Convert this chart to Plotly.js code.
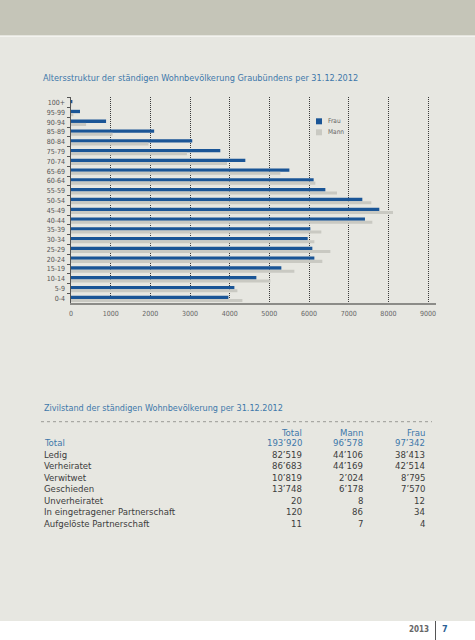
<!DOCTYPE html>
<html>
<head>
<meta charset="utf-8">
<script src="https://cdn.plot.ly/plotly-3.0.1.min.js"></script>
<style>
  html, body { margin: 0; padding: 0; background: #e7e7e1; }
  #chart { width: 475px; height: 640px; }
</style>
</head>
<body>
<div id="chart"></div>
<script>
// ---------- data ----------
const ageGroups = ["100+","95-99","90-94","85-89","80-84","75-79","70-74","65-69","60-64","55-59","50-54","45-49","40-44","35-39","30-34","25-29","20-24","15-19","10-14","5-9","0-4"];
const frau = [35, 227, 884, 2096, 3056, 3763, 4394, 5504, 6116, 6411, 7343, 7771, 7410, 6033, 5966, 6083, 6134, 5302, 4672, 4118, 3967];
const mann = [8, 60, 380, 1050, 1953, 2922, 3932, 5277, 6159, 6705, 7570, 8116, 7595, 6310, 6134, 6537, 6335, 5630, 5025, 4194, 4320];
const xTicks = [0, 1000, 2000, 3000, 4000, 5000, 6000, 7000, 8000, 9000];

const chartTitle = "Altersstruktur der ständigen Wohnbevölkerung Graubündens per 31.12.2012";
const tableTitle = "Zivilstand der ständigen Wohnbevölkerung per 31.12.2012";
const tableHeader = ["Total", "Mann", "Frau"];
const zivilLabels = ["Total","Ledig","Verheiratet","Verwitwet","Geschieden","Unverheiratet","In eingetragener Partnerschaft","Aufgelöste Partnerschaft"];
const zivilTotal = [193920, 82519, 86683, 10819, 13748, 20, 120, 11];
const zivilMann  = [96578, 44106, 44169, 2024, 6178, 8, 86, 7];
const zivilFrau  = [97342, 38413, 42514, 8795, 7570, 12, 34, 4];
const footerYear = "2013";
const footerPage = "7";

// ---------- layout helpers ----------
const L = 71, R = 436, T = 97, B = 303;
const W = R - L, H = B - T;
const px = x => (x - L) / W;
const py = y => (B - y) / H;
const FONT = "'DejaVu Sans Condensed', 'Liberation Sans Narrow', 'DejaVu Sans', sans-serif";
const BLUE = "#1a5596";
const GREY = "#c9c9c2";
const TBLUE = "#3e78aa";
const TXT = "#3c3c3c";

function fmt(n) {
  const s = String(n);
  return s.replace(/\B(?=(\d{3})+(?!\d))/g, "\u2019");
}

const traces = [
  { type: "bar", orientation: "h", name: "Frau", y: ageGroups, x: frau,
    marker: { color: BLUE }, offset: -0.27, width: 0.34, showlegend: false, hoverinfo: "skip" },
  { type: "bar", orientation: "h", name: "Mann", y: ageGroups, x: mann,
    marker: { color: GREY }, offset: 0.07, width: 0.31, showlegend: false, hoverinfo: "skip" }
];

const annotations = [];
const shapes = [];

// page decoration
shapes.push({ type: "rect", xref: "paper", yref: "paper", x0: px(0), x1: px(475), y0: py(0), y1: py(35.5), fillcolor: "#c5c5b8", line: { width: 0 }, layer: "below" });
shapes.push({ type: "line", xref: "paper", yref: "paper", x0: px(0), x1: px(475), y0: py(36.3), y1: py(36.3), line: { color: "#f3f3ef", width: 1.5 } });
shapes.push({ type: "rect", xref: "paper", yref: "paper", x0: px(0), x1: px(475), y0: py(621), y1: py(640), fillcolor: "#ffffff", line: { width: 0 }, layer: "below" });
shapes.push({ type: "line", xref: "paper", yref: "paper", x0: px(435.5), x1: px(435.5), y0: py(621), y1: py(640), line: { color: "#555555", width: 1 } });

// chart title
annotations.push({ xref: "paper", yref: "paper", x: px(41), y: py(78), xanchor: "left", yanchor: "middle", showarrow: false,
  text: chartTitle, font: { family: FONT, size: 9.1, color: TBLUE } });

// manual legend
shapes.push({ type: "rect", xref: "paper", yref: "paper", x0: px(316), x1: px(322), y0: py(124.3), y1: py(118.3), fillcolor: BLUE, line: { width: 0 } });
shapes.push({ type: "rect", xref: "paper", yref: "paper", x0: px(316), x1: px(322), y0: py(135.3), y1: py(129.3), fillcolor: GREY, line: { width: 0 } });
annotations.push({ xref: "paper", yref: "paper", x: px(325.5), y: py(121.3), xanchor: "left", yanchor: "middle", showarrow: false,
  text: traces[0].name, font: { family: FONT, size: 6.5, color: "#666" } });
annotations.push({ xref: "paper", yref: "paper", x: px(325.5), y: py(132.3), xanchor: "left", yanchor: "middle", showarrow: false,
  text: traces[1].name, font: { family: FONT, size: 6.5, color: "#666" } });

// table
annotations.push({ xref: "paper", yref: "paper", x: px(41.5), y: py(408.3), xanchor: "left", yanchor: "middle", showarrow: false,
  text: tableTitle, font: { family: FONT, size: 9, color: TBLUE } });
shapes.push({ type: "line", xref: "paper", yref: "paper", x0: px(41), x1: px(432), y0: py(421.7), y1: py(421.7), line: { color: "#9a9a96", width: 1, dash: "dot" } });

const colRight = [303.5, 365, 427];
const headerY = 432.7;
const rowY0 = 442.5, rowStep = 11.55;
tableHeader.forEach((h, i) => {
  annotations.push({ xref: "paper", yref: "paper", x: px(colRight[i]), y: py(headerY), xanchor: "right", yanchor: "middle", showarrow: false,
    text: h, font: { family: FONT, size: 9.5, color: TBLUE } });
});
zivilLabels.forEach((lab, r) => {
  const yy = py(rowY0 + r * rowStep);
  const col = r === 0 ? TBLUE : TXT;
  annotations.push({ xref: "paper", yref: "paper", x: px(41.5), y: yy, xanchor: "left", yanchor: "middle", showarrow: false,
    text: lab, font: { family: FONT, size: 9.5, color: col } });
  [zivilTotal, zivilMann, zivilFrau].forEach((arr, c) => {
    annotations.push({ xref: "paper", yref: "paper", x: px(colRight[c]), y: yy, xanchor: "right", yanchor: "middle", showarrow: false,
      text: fmt(arr[r]), font: { family: FONT, size: 9.5, color: col } });
  });
});

// footer
annotations.push({ xref: "paper", yref: "paper", x: px(431), y: py(629), xanchor: "right", yanchor: "middle", showarrow: false,
  text: footerYear, font: { family: FONT, size: 8, color: "#666", weight: "bold" } });
annotations.push({ xref: "paper", yref: "paper", x: px(440), y: py(629), xanchor: "left", yanchor: "middle", showarrow: false,
  text: footerPage, font: { family: FONT, size: 9, color: "#2c5f95", weight: "bold" } });

const layout = {
  width: 475, height: 640, autosize: false,
  margin: { l: L, r: 475 - R, t: T, b: 640 - B, pad: 0 },
  paper_bgcolor: "#e7e7e1", plot_bgcolor: "rgba(0,0,0,0)",
  barmode: "overlay",
  showlegend: false,
  xaxis: {
    range: [0, 9200], tickvals: xTicks, ticktext: xTicks.map(String),
    showgrid: true, gridcolor: "#3a3a3a", gridwidth: 1, griddash: "1px,1px",
    zeroline: false, showline: true, linecolor: "#8c8c88", linewidth: 2,
    ticks: "", ticklabelstandoff: 3,
    tickfont: { family: FONT, size: 7, color: "#666" }, fixedrange: true
  },
  yaxis: {
    type: "category", categoryarray: ageGroups, range: [20.48, -0.58],
    showgrid: false, zeroline: false, showline: true, linecolor: "#555", linewidth: 1.5,
    ticks: "outside", tickson: "boundaries", ticklen: 3, tickcolor: "#555", tickwidth: 1,
    ticklabelstandoff: 3,
    tickfont: { family: FONT, size: 7, color: "#555" }, fixedrange: true
  },
  shapes: shapes,
  annotations: annotations
};

Plotly.newPlot("chart", traces, layout, { staticPlot: true, displayModeBar: false });
</script>
</body>
</html>
